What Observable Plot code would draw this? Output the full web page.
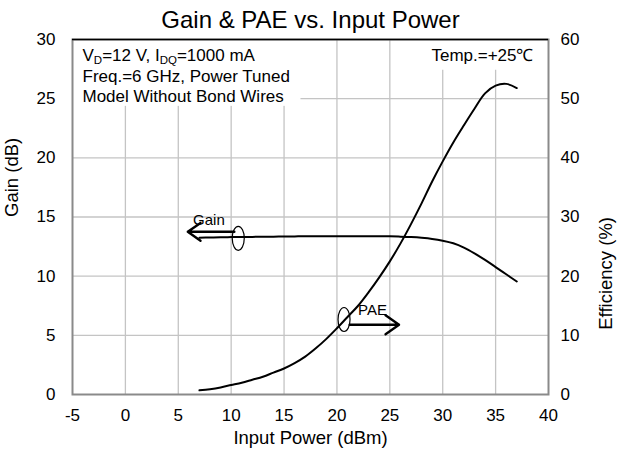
<!DOCTYPE html>
<html>
<head>
<meta charset="utf-8">
<script src="https://cdn.jsdelivr.net/npm/d3@7"></script>
<script src="https://cdn.jsdelivr.net/npm/@observablehq/plot@0.6"></script>
<style>
body { margin: 0; background: white; }
</style>
</head>
<body>
<div id="chart"></div>
<script>
// Input power (dBm)
const pin = [7,8,9,10,11,12,13,14,15,16,17,18,19,20,21,22,23,24,25,26,27,28,29,30,31,32,33,34,35,36,37];
// Gain (dB)
const gain = [13.25,13.27,13.29,13.3,13.31,13.32,13.33,13.34,13.35,13.36,13.37,13.37,13.38,13.38,13.38,13.38,13.38,13.37,13.37,13.34,13.3,13.24,13.15,13.0,12.78,12.42,11.93,11.37,10.77,10.16,9.55];
// PAE (%)
const pae = [0.7,0.9,1.2,1.6,2.0,2.5,3.0,3.7,4.4,5.3,6.4,7.8,9.4,11.2,13.1,15.0,17.3,19.8,22.5,25.5,28.8,32.3,36.0,39.4,42.6,45.5,48.3,50.9,52.2,52.5,51.8];

const xTicks = [-5,0,5,10,15,20,25,30,35,40];
const gainTicks = [0,5,10,15,20,25,30];
const gridX = [0,5,10,15,20,25,30,35];
const gridY = [5,10,15,20,25];

const title = "Gain & PAE vs. Input Power";
const xLabel = "Input Power (dBm)";
const yLabel = "Gain (dB)";
const y2Label = "Efficiency (%)";
const noteLine1 = "VD=12 V, IDQ=1000 mA";
const noteLines = "Freq.=6 GHz, Power Tuned\nModel Without Bond Wires";
const tempNote = "Temp.=+25℃";

// annotation boxes (data units: x in dBm, y in gain dB)
const boxes = [{x1: -5, x2: 16.6, y1: 24.35, y2: 30}, {x1: 26, x2: 40, y1: 27.4, y2: 30}];
// series markers (ellipse + arrow + label), y on gain scale
const markers = [
  {name: "Gain", ex: 10.67, ey: 13.2, ax1: 10.3, ax2: 5.9, ay: 13.75, tx: 7.9, ty: 14.77},
  {name: "PAE", ex: 20.67, ey: 6.34, ax1: 21.2, ax2: 25.87, ay: 5.89, tx: 23.36, ty: 7.1}
];

const gainData = pin.map((p, i) => ({pin: p, v: gain[i]}));
const paeData = pin.map((p, i) => ({pin: p, v: pae[i] / 2}));

const ellipse = {
  draw(ctx, size) {
    const rx = 6, ry = 12, k = 0.5523;
    ctx.moveTo(rx, 0);
    ctx.bezierCurveTo(rx, ry * k, rx * k, ry, 0, ry);
    ctx.bezierCurveTo(-rx * k, ry, -rx, ry * k, -rx, 0);
    ctx.bezierCurveTo(-rx, -ry * k, -rx * k, -ry, 0, -ry);
    ctx.bezierCurveTo(rx * k, -ry, rx, -ry * k, rx, 0);
    ctx.closePath();
  }
};

const fmt = d => String(d);

const plot = Plot.plot({
  width: 629,
  height: 453,
  marginTop: 39,
  marginLeft: 72,
  marginRight: 81,
  marginBottom: 59,
  style: {fontFamily: "'Liberation Sans', Arial, sans-serif", background: "white", color: "black", overflow: "visible"},
  x: {domain: [-5, 40]},
  y: {domain: [0, 30]},
  marks: [
    Plot.ruleX(gridX, {stroke: "#c4c4c4", strokeWidth: 1.3}),
    Plot.ruleY(gridY, {stroke: "#c4c4c4", strokeWidth: 1.3}),
    Plot.rect(boxes, {x1: "x1", x2: "x2", y1: "y1", y2: "y2", fill: "white"}),
    Plot.frame({stroke: "#8a8a8a", strokeWidth: 2}),
    Plot.ruleY([30], {stroke: "black", strokeWidth: 1.3}),
    Plot.axisX({ticks: xTicks, tickSize: 0, tickPadding: 14, fontSize: 17, label: null, tickFormat: fmt}),
    Plot.axisY({ticks: gainTicks, tickSize: 0, tickPadding: 17, fontSize: 17, label: null, anchor: "left", tickFormat: fmt}),
    Plot.axisY({ticks: gainTicks, tickSize: 0, tickPadding: 12, fontSize: 17, label: null, anchor: "right", tickFormat: d => String(d * 2)}),
    Plot.line(gainData, {x: "pin", y: "v", stroke: "black", strokeWidth: 2, curve: "catmull-rom"}),
    Plot.line(paeData, {x: "pin", y: "v", stroke: "black", strokeWidth: 2, curve: "catmull-rom"}),
    Plot.dot(markers, {x: "ex", y: "ey", symbol: ellipse, r: 6, stroke: "black", strokeWidth: 1.2, fill: "none"}),
    Plot.arrow(markers, {x1: "ax1", x2: "ax2", y1: "ay", y2: "ay", stroke: "black", strokeWidth: 2.4, headLength: 11, headAngle: 70}),
    Plot.text(markers, {x: "tx", y: "ty", text: "name", fontSize: 15}),
    Plot.text([noteLine1], {frameAnchor: "top-left", dx: 10, dy: 9.3, lineAnchor: "top", textAnchor: "start", fontSize: 17, className: "note1"}),
    Plot.text([noteLines], {frameAnchor: "top-left", dx: 10, dy: 28.8, lineAnchor: "top", textAnchor: "start", fontSize: 17, lineHeight: 1.15}),
    Plot.text([tempNote], {frameAnchor: "top-right", dx: -15, dy: 9.3, lineAnchor: "top", textAnchor: "end", fontSize: 17}),
    Plot.text([title], {frameAnchor: "top", dy: -19, lineAnchor: "middle", fontSize: 24}),
    Plot.text([xLabel], {frameAnchor: "bottom", dy: 44, lineAnchor: "middle", fontSize: 18.5}),
    Plot.text([yLabel], {frameAnchor: "left", dx: -60, lineAnchor: "middle", rotate: -90, fontSize: 18.5}),
    Plot.text([y2Label], {frameAnchor: "right", dx: 58, lineAnchor: "middle", rotate: -90, fontSize: 18.5})
  ]
});

// subscripts in the first note line
d3.select(plot).selectAll(".note1 text").each(function() {
  const t = d3.select(this);
  t.text(null);
  const parts = [["V", false], ["D", true], ["=12 V, I", false], ["DQ", true], ["=1000 mA", false]];
  parts.forEach(([s, sub]) => {
    const ts = t.append("tspan").text(s);
    if (sub) ts.attr("font-size", 11.5).attr("dy", 3);
    else ts.attr("dy", s === "V" ? null : -3);
  });
});

document.getElementById("chart").appendChild(plot);
</script>
</body>
</html>
